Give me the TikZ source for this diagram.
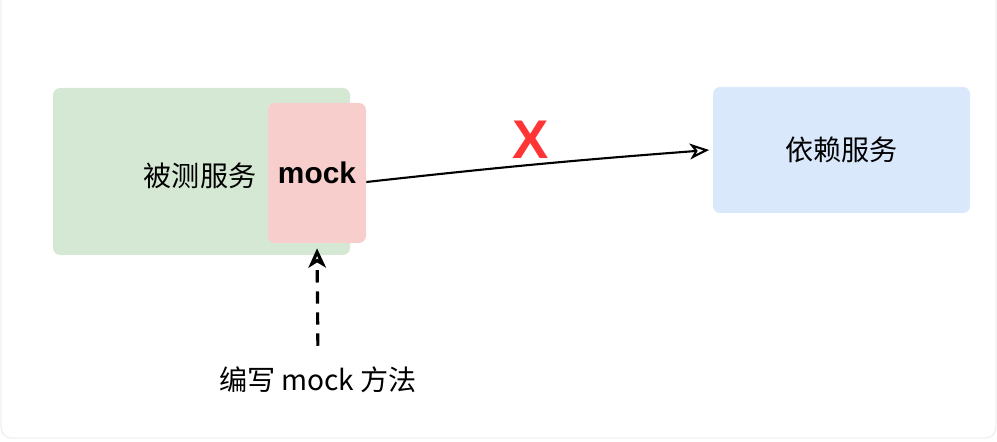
\documentclass[tikz,border=0pt]{standalone}
\usepackage{fontspec}
\setmainfont{Noto Sans CJK SC}
\newfontfamily\latinbold{Liberation Sans}
\usetikzlibrary{arrows.meta}
\definecolor{svcgreen}{HTML}{D5E8D4}
\definecolor{mockpink}{HTML}{F8CECC}
\definecolor{depblue}{HTML}{DAE8FC}
\definecolor{crossred}{HTML}{FF3535}
\tikzset{
    svcbox/.style={rectangle, rounded corners=4pt, inner sep=0pt, font=\fontsize{16}{18}\selectfont},
    callarrow/.style={-{Stealth[open,length=11pt,width=9pt,inset=3pt]}, line width=1.2pt},
    mockarrow/.style={-{Stealth[open,length=11pt,width=10pt,inset=3pt]}, line width=1.8pt, dash pattern=on 7pt off 5pt}
}
\begin{document}
\begin{tikzpicture}[x=0.02cm,y=-0.02cm]
    \useasboundingbox (0,0) rectangle (997,442);
    \draw[gray!12, line width=0.8pt, rounded corners=6pt] (1,-20) rectangle (996,438);
    % services
    \node[svcbox, fill=svcgreen, minimum width=297*0.02cm, minimum height=167*0.02cm] (svc) at (201.5,171.5) {};
    \node[font=\fontsize{16}{18}\selectfont] (svclabel) at (200,176) {被测服务};
    \node[svcbox, fill=mockpink, minimum width=98*0.02cm, minimum height=140*0.02cm,
        font=\latinbold\bfseries\fontsize{17}{18}\selectfont] (mock) at (317,173) {mock};
    \node[svcbox, fill=depblue, minimum width=257*0.02cm, minimum height=126*0.02cm] (dep) at (841.5,150) {依赖服务};
    % call that is cut off
    \draw[callarrow] ([yshift=-9*0.02cm]mock.east) to[bend left=1] ([xshift=-2pt]dep.west);
    \node[text=crossred, font=\latinbold\bfseries\fontsize{31}{31}\selectfont] (cross) at (531,140) {X};
    % writing the mock
    \node[font=\fontsize{16}{18}\selectfont] (write) at (318,380) {编写 mock 方法};
    \draw[mockarrow, shorten <=0.3cm, shorten >=0.1cm] (write.north) -- (mock.south);
\end{tikzpicture}
\end{document}
